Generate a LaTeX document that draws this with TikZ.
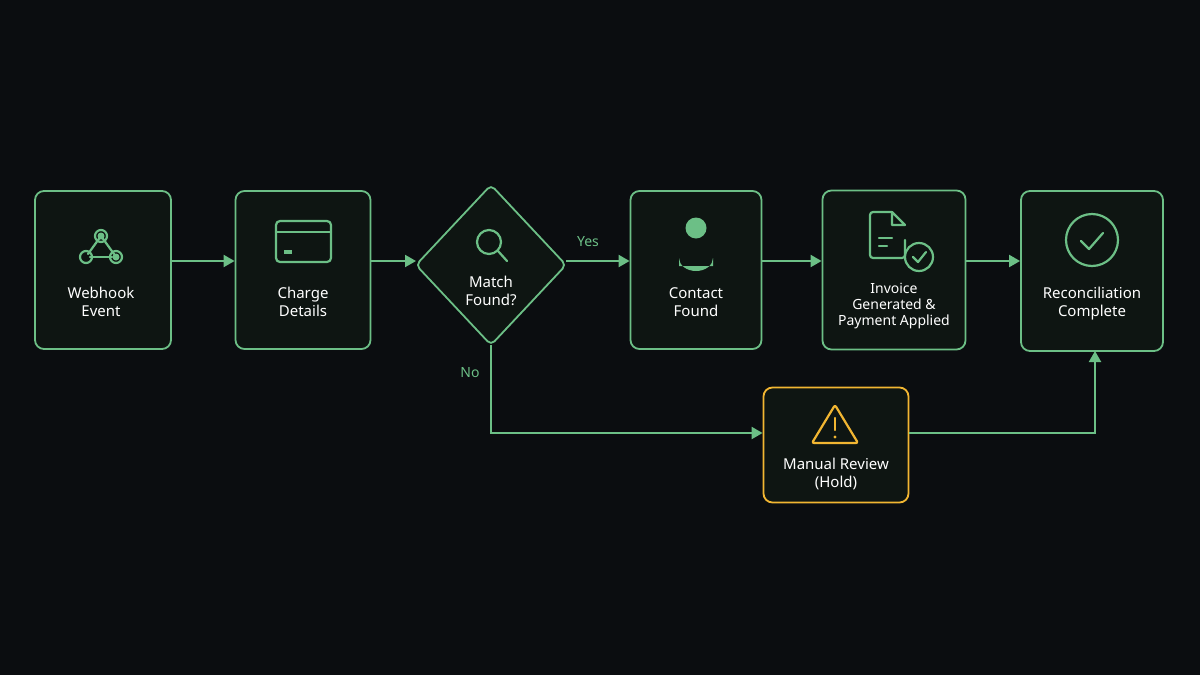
\documentclass[tikz,border=0pt]{standalone}
\usepackage{fontspec}
\setmainfont{Noto Sans}
\usetikzlibrary{arrows.meta}
\definecolor{bg}{HTML}{0B0D10}
\definecolor{gr}{HTML}{6CBF86}
\definecolor{boxf}{HTML}{0E1512}
\definecolor{og}{HTML}{F2B632}
\begin{document}
\begin{tikzpicture}[x=1pt,y=-1pt,
  box/.style={draw=gr,line width=1.8pt,fill=boxf,rounded corners=9pt,inner sep=0pt},
  lbl/.style={text=white,font=\fontsize{15}{18}\selectfont,align=center},
  arr/.style={draw=gr,line width=2pt,-{Triangle[length=11pt,width=12pt]}},
  ic/.style={draw=gr,line width=2.2pt,line cap=round,line join=round}]
\fill[bg] (0,0) rectangle (1200,675);
\useasboundingbox (0,0) rectangle (1200,675);
% boxes
\node[box,minimum width=136pt,minimum height=158pt] (web) at (103,270) {};
\node[box,minimum width=135pt,minimum height=158pt] (chg) at (303,270) {};
\draw[draw=gr,line width=1.8pt,fill=boxf,rounded corners=5pt] (491,185) -- (566,265) -- (491,345) -- (416,265) -- cycle;
\coordinate (dL) at (416,261); \coordinate (dR) at (566,261); \coordinate (dB) at (491,345);
\node[box,minimum width=131pt,minimum height=158pt] (con) at (696,270) {};
\node[box,minimum width=143pt,minimum height=159pt] (inv) at (894,270) {};
\node[box,minimum width=142pt,minimum height=160pt] (rec) at (1092,271) {};
\node[box,draw=og,minimum width=145pt,minimum height=115pt] (man) at (836,445) {};
% labels
\node[lbl] (t1) at (101,302) {Webhook\\Event};
\node[lbl] (t2) at (303,302) {Charge\\Details};
\node[lbl] (t3) at (491,291) {Match\\Found?};
\node[lbl] (t4) at (696,302) {Contact\\Found};
\node[lbl,font=\fontsize{14}{16}\selectfont] (t5) at (894,306) {Invoice\\Generated \&\\Payment Applied};
\node[lbl] (t6) at (1092,304) {Reconciliation\\Complete};
\node[lbl] (t7) at (836,474) {Manual Review\\(Hold)};
\node[text=gr,font=\fontsize{14}{16}\selectfont] (yes) at (588,242) {Yes};
\node[text=gr,font=\fontsize{14}{16}\selectfont] (no) at (470,373) {No};
% arrows
\draw[arr] (web.east |- 0,261) -- (chg.west |- 0,261);
\draw[arr] (chg.east |- 0,261) -- (dL);
\draw[arr] (dR) -- (con.west |- 0,261);
\draw[arr] (con.east |- 0,261) -- (inv.west |- 0,261);
\draw[arr] (inv.east |- 0,261) -- (rec.west |- 0,261);
\draw[arr] (dB) |- (man.west |- 0,433);
\draw[arr] (man.east |- 0,433) -| (1095,351);
% icons
% webhook
\draw[ic] (101,236) circle (6);
\draw[ic] (86,257) circle (6);
\draw[ic] (116,257) circle (6);
\fill[gr] (101,236) circle (3.5) (116,257) circle (3.5);
\draw[ic] (101,236) -- (88,254); \draw[ic] (101,236) -- (114,254);\draw[ic] (90,257)--(112,257);
% card
\draw[ic,rounded corners=4pt] (276,221) rectangle (331,262);
\draw[ic] (276,232) -- (331,232);
\fill[gr] (284,250) rectangle (292,254);
% magnifier
\draw[ic] (489,242) circle (12);
\draw[ic] (498,251) -- (507,261);
% person
\fill[gr] (696,228) circle (10.5);
\fill[gr] (679,266) -- (679,258) arc (180:0:17 and 13) -- (713,266) -- cycle;
% document
\draw[ic,rounded corners=3pt] (905,240) -- (905,258) -- (870,258) -- (870,212) -- (892,212);
\draw[ic] (892,212) -- (905,225) -- (892,225) -- cycle;
\draw[ic] (879,238)--(892,238) (879,246)--(887,246);
\draw[ic,fill=boxf] (919,257) circle (14);
\draw[ic] (913,257) -- (918,262) -- (926,252);
% check circle
\draw[ic] (1092,240) circle (26);
\draw[ic] (1081,241) -- (1089,249) -- (1103,233);
% warning
\draw[draw=og,line width=2.2pt,line join=round,rounded corners=2pt] (835,405) -- (858,443) -- (812,443) -- cycle;
\draw[draw=og,line width=2.4pt,line cap=round] (835,418) -- (835,430);
\fill[og] (835,437) circle (1.6);
\end{tikzpicture}
\end{document}
